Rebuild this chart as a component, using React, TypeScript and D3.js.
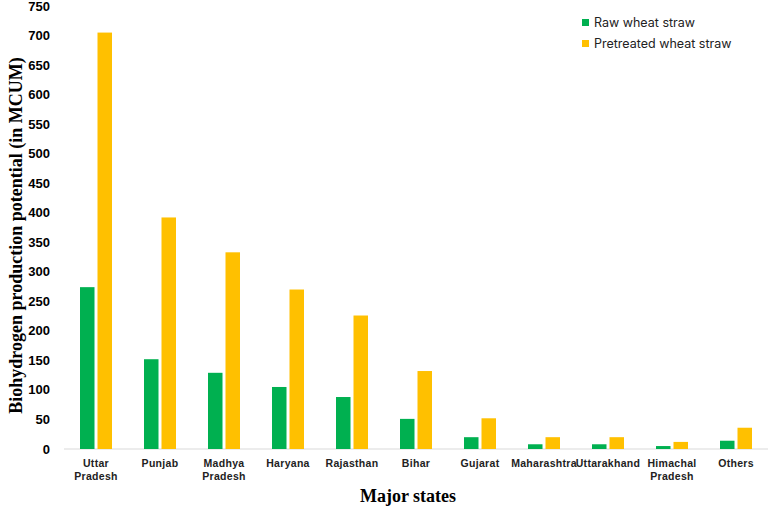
import * as d3 from "d3";

const states = [
  ["Uttar", "Pradesh"],
  ["Punjab"],
  ["Madhya", "Pradesh"],
  ["Haryana"],
  ["Rajasthan"],
  ["Bihar"],
  ["Gujarat"],
  ["Maharashtra"],
  ["Uttarakhand"],
  ["Himachal", "Pradesh"],
  ["Others"],
];
const rawStraw = [274, 152, 129, 105, 88, 51, 20, 8, 8, 5, 14];
const pretreatedStraw = [705, 392, 333, 270, 226, 132, 52, 20, 20, 12, 36];
const seriesNames = ["Raw wheat straw", "Pretreated wheat straw"];
const seriesColors = ["#00B050", "#FFC000"];
const yTicks = d3.range(0, 751, 50);

const W = 768;
const H = 509;

const App = () => {
  const keys = states.map((s) => s.join(" "));
  const x = d3.scaleBand().domain(keys).range([64, 768]).paddingInner(0).paddingOuter(0);
  const y = d3.scaleLinear().domain([0, 750]).range([449, 6]);
  const barW = 14.5;
  const gap = 3;
  const series = [rawStraw, pretreatedStraw];

  return (
    <svg
      width={W}
      height={H}
      style={{ position: "absolute", left: 0, top: 0, background: "#fff" }}
    >
      {yTicks.map((t) => (
        <text
          key={t}
          x={50}
          y={y(t)}
          dy="0.35em"
          textAnchor="end"
          fontFamily="Liberation Sans, Arial, sans-serif"
          fontWeight="bold"
          fontSize={13}
          fill="#000"
        >
          {t}
        </text>
      ))}
      <line x1={64} x2={768} y1={y(0)} y2={y(0)} stroke="#d9d9d9" strokeWidth={1.2} />
      {keys.map((k, i) => {
        const cx = (x(k) as number) + x.bandwidth() / 2;
        const start = cx - (barW * 2 + gap) / 2;
        return (
          <g key={k}>
            {series.map((s, j) => (
              <rect
                key={j}
                x={start + j * (barW + gap)}
                y={y(s[i])}
                width={barW}
                height={y(0) - y(s[i])}
                fill={seriesColors[j]}
              />
            ))}
            <text
              x={cx}
              y={467}
              textAnchor="middle"
              fontFamily="Liberation Sans, Arial, sans-serif"
              fontWeight="bold"
              fontSize={10.5}
              letterSpacing={0.3}
              fill="#222"
            >
              {states[i].map((line, li) => (
                <tspan key={li} x={cx} dy={li === 0 ? 0 : 13}>
                  {line}
                </tspan>
              ))}
            </text>
          </g>
        );
      })}
      <text
        transform={`translate(22,${y(375) + 8}) rotate(-90)`}
        textAnchor="middle"
        fontFamily="Liberation Serif, Times New Roman, serif"
        fontWeight="bold"
        fontSize={18}
        fill="#000"
      >
        Biohydrogen production potential (in MCUM)
      </text>
      <text
        x={408}
        y={502}
        textAnchor="middle"
        fontFamily="Liberation Serif, Times New Roman, serif"
        fontWeight="bold"
        fontSize={18}
        fill="#000"
      >
        Major states
      </text>
      {seriesNames.map((n, j) => (
        <g key={n} transform={`translate(582,${19 + j * 21})`}>
          <rect x={0} y={0} width={7} height={7} fill={seriesColors[j]} />
          <text
            x={12}
            y={4}
            dy="0.35em"
            fontFamily="Inter, Liberation Sans, sans-serif"
            fontSize={12.5}
            fill="#222"
          >
            {n}
          </text>
        </g>
      ))}
    </svg>
  );
};

export default App;
